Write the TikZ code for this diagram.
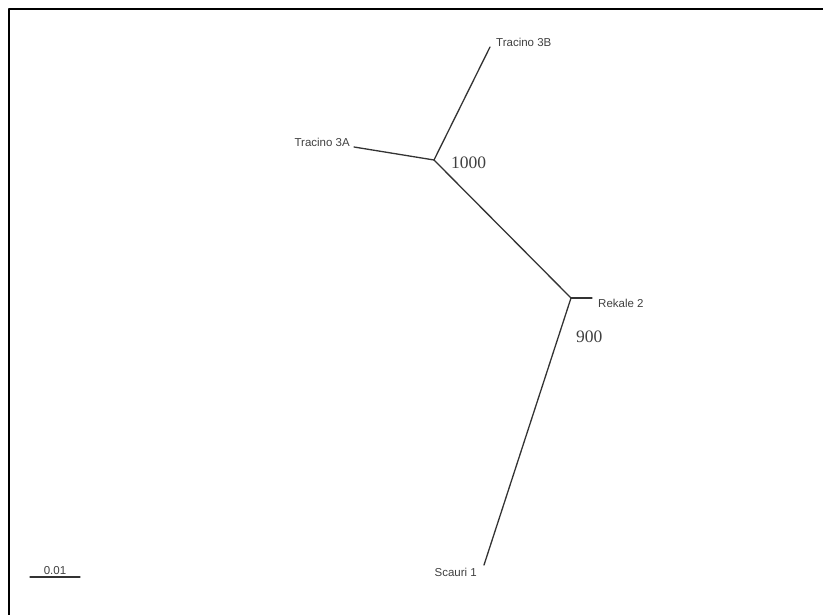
\documentclass[tikz,border=0pt]{standalone}
\usepackage{fontspec}
\setmainfont{Liberation Serif}
\newfontfamily\leaffont{Liberation Sans}
\usetikzlibrary{positioning,calc}

\begin{document}
\begin{tikzpicture}[x=1pt, y=-1pt, line join=round, line cap=round,
	branch/.style={draw=black!80, line width=1.3pt},
	leaf/.style={font=\leaffont\fontsize{11.5}{13}\selectfont, text=black!75, inner sep=1pt},
	boot/.style={font=\fontsize{17.5}{20}\selectfont, text=black!75, inner sep=0pt}]
	\useasboundingbox (0,0) rectangle (823,615);
	% frame (only top and left edges fall inside the page)
	\draw[line width=2pt] (830,9) -| (9,620);
	% inner nodes and tips
	\coordinate (u) at (434,160);
	\coordinate (v) at (571,298);
	\coordinate (t3b) at (490,47);
	\coordinate (t3a) at (354,147);
	\coordinate (rk2) at (592,298);
	\coordinate (sc1) at (484,565);
	\draw[branch] (u) -- (t3b);
	\draw[branch] (u) -- (t3a);
	\draw[branch] (u) -- (v);
	\draw[branch] (v) -- (rk2);
	\draw[branch] (v) -- (sc1);
	% leaf labels
	\node[leaf, anchor=west] (l3b) at (495,42) {Tracino 3B};
	\node[leaf, anchor=east] (l3a) at (351,142) {Tracino 3A};
	\node[leaf, anchor=west] (lrk) at (597,303) {Rekale 2};
	\node[leaf, anchor=east] (lsc) at (478,572) {Scauri 1};
	% bootstrap values
	\node[boot, anchor=west] (b1) at (451,163) {1000};
	\node[boot, anchor=west] (b2) at (576,337) {900};
	% scale bar
	\coordinate (s0) at (30,577);
	\coordinate (s1) at (80,577);
	\draw[branch] (s0) -- (s1);
	\coordinate (sm) at ($(s0)!.5!(s1)$);
	\node[leaf, above=1pt of sm] (sl) {0.01};
\end{tikzpicture}
\end{document}
